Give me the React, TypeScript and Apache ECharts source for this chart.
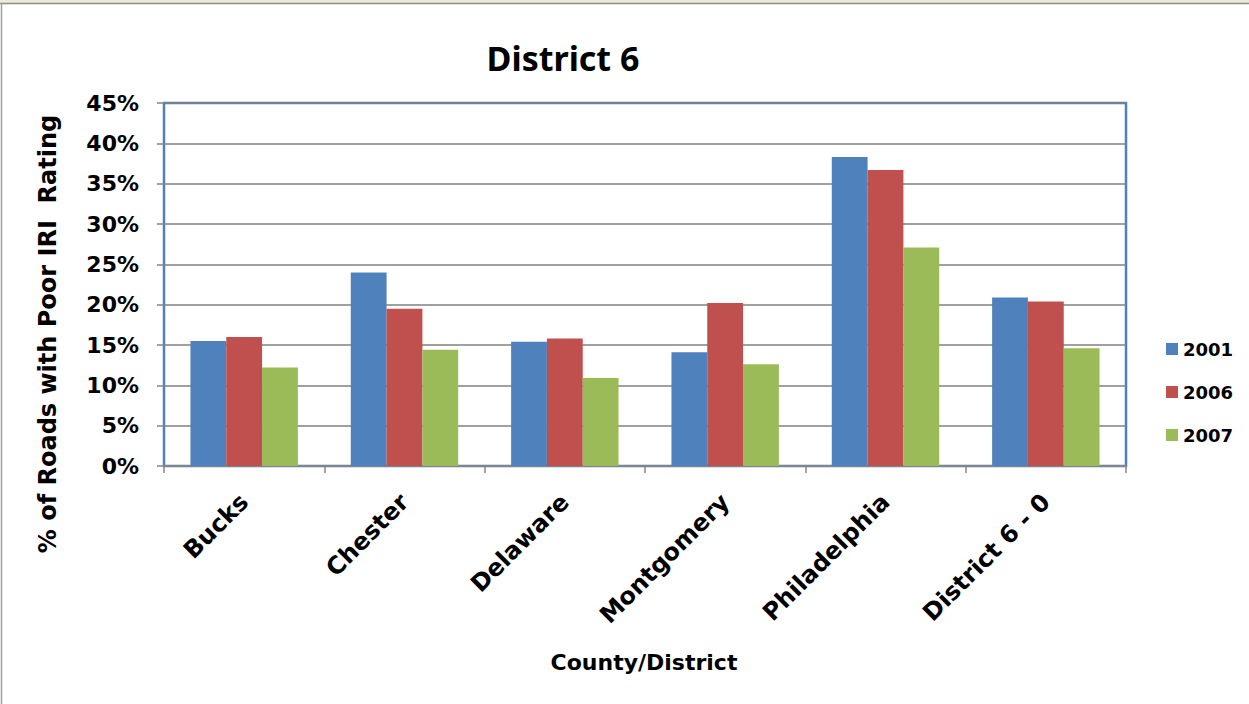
import React, { useEffect, useRef } from "react";
import * as echarts from "echarts";

const categories = ["Bucks", "Chester", "Delaware", "Montgomery", "Philadelphia", "District 6 - 0"];
const years = ["2001", "2006", "2007"];
const values2001 = [15.5, 24.0, 15.4, 14.1, 38.3, 20.9];
const values2006 = [16.0, 19.5, 15.8, 20.2, 36.7, 20.4];
const values2007 = [12.2, 14.4, 10.9, 12.6, 27.1, 14.6];
const colors = ["#4F81BD", "#C0504D", "#9BBB59"];

const FONT = "'DejaVu Sans', Verdana, sans-serif";

export default function App() {
  const ref = useRef<HTMLDivElement>(null);
  useEffect(() => {
    document.body.style.margin = "0";
    const chart = echarts.init(ref.current!, null, { renderer: "svg" });
    const seriesData = [values2001, values2006, values2007];
    chart.setOption({
      animation: false,
      backgroundColor: "#ffffff",
      title: {
        text: "District 6",
        left: 558,
        top: 36,
        textAlign: "center",
        textStyle: { fontFamily: "'Noto Sans', sans-serif", fontWeight: "bold", fontSize: 34, color: "#000" },
      },
      legend: {
        orient: "vertical",
        left: 1161,
        top: 334,
        itemWidth: 12,
        itemHeight: 12,
        itemGap: 23,
        icon: "rect",
        data: years,
        textStyle: { fontFamily: FONT, fontWeight: "bold", fontSize: 18, color: "#000", lineHeight: 20 },
      },
      grid: {
        left: 164,
        right: 123,
        top: 103,
        bottom: 238,
        show: true,
        borderColor: "#4F81BD",
        borderWidth: 2.5,
        backgroundColor: "transparent",
      },
      xAxis: {
        type: "category",
        data: categories,
        axisLine: { show: true, lineStyle: { color: "#868686", width: 1.5 } },
        axisTick: { show: true, length: 7, lineStyle: { color: "#868686", width: 1.5 } },
        axisLabel: {
          rotate: 45,
          margin: 32,
          interval: 0,
          fontFamily: FONT,
          fontWeight: "bold",
          fontSize: 24,
          color: "#000",
        },
      },
      yAxis: {
        type: "value",
        min: 0,
        max: 45,
        interval: 5,
        axisLine: { show: false },
        axisTick: { show: true, length: 7, lineStyle: { color: "#868686", width: 1.5 } },
        splitLine: { show: true, lineStyle: { color: "#808080", width: 1.5 } },
        axisLabel: {
          margin: 25,
          formatter: (v: number) => v + "%",
          fontFamily: FONT,
          fontWeight: "bold",
          fontSize: 22,
          color: "#000",
        },
      },
      series: years.map((y, i) => ({
        name: y,
        type: "bar",
        data: seriesData[i],
        barGap: "0%",
        barCategoryGap: "33%",
        itemStyle: { color: colors[i] },
      })),
      graphic: [
        { type: "rect", shape: { x: 0, y: 0, width: 1249, height: 3 }, style: { fill: "#ECEAD6" }, silent: true },
        { type: "line", shape: { x1: 0, y1: 3.5, x2: 1249, y2: 3.5 }, style: { stroke: "#8C8C8C", lineWidth: 1.5 }, silent: true },
        { type: "line", shape: { x1: 1.5, y1: 3, x2: 1.5, y2: 704 }, style: { stroke: "#A0A0A0", lineWidth: 1.5 }, silent: true },
        {
          type: "text",
          x: 48,
          y: 334,
          rotation: Math.PI / 2,
          style: {
            text: "% of Roads with Poor IRI  Rating",
            fontFamily: FONT,
            fontWeight: "bold",
            fontSize: 24,
            fill: "#000",
            textAlign: "center",
            textVerticalAlign: "middle",
          },
        },
        {
          type: "text",
          x: 644,
          y: 662,
          style: {
            text: "County/District",
            fontFamily: FONT,
            fontWeight: "bold",
            fontSize: 22,
            fill: "#000",
            textAlign: "center",
            textVerticalAlign: "middle",
          },
        },
      ],
    });
    return () => chart.dispose();
  }, []);
  return <div ref={ref} style={{ position: "absolute", left: 0, top: 0, width: 1249, height: 704 }} />;
}
